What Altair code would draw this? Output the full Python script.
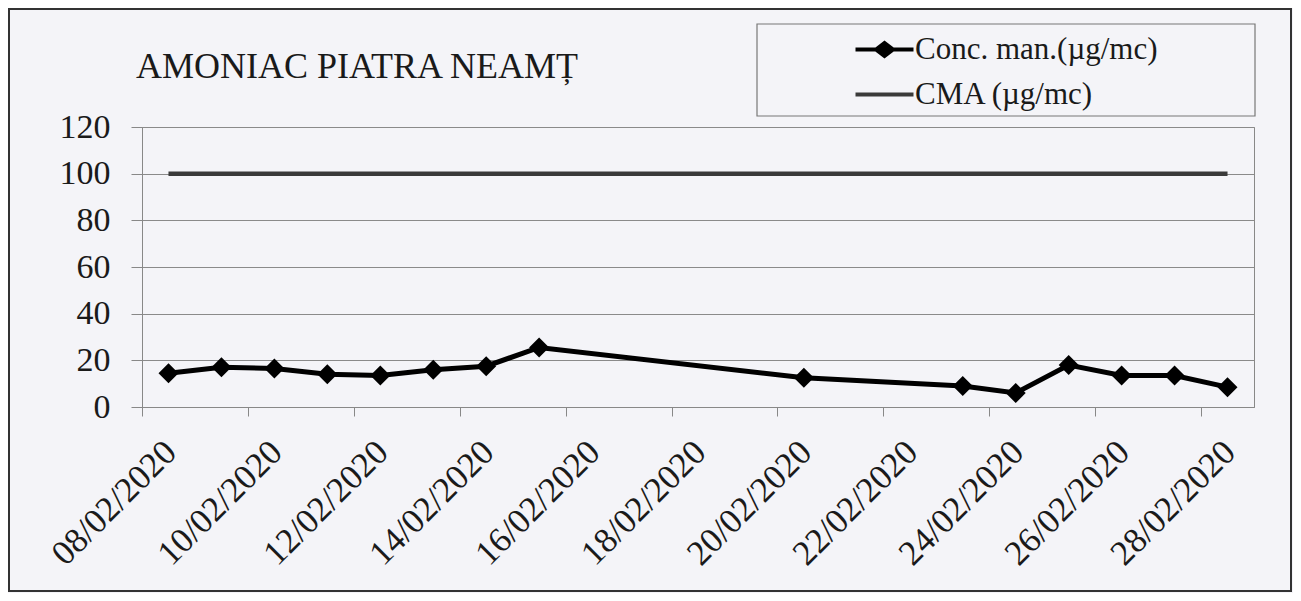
import altair as alt
import pandas as pd

# ---------------- data ----------------
dates = ["2020-02-08", "2020-02-09", "2020-02-10", "2020-02-11", "2020-02-12",
         "2020-02-13", "2020-02-14", "2020-02-15", "2020-02-20", "2020-02-23",
         "2020-02-24", "2020-02-25", "2020-02-26", "2020-02-27", "2020-02-28"]
conc = [14.5, 17, 16.5, 14, 13.5, 16, 17.5, 25.5, 12.5, 9, 6, 18, 13.5, 13.5, 8.5]
cma = [100] * len(dates)
series_names = ["Conc. man.(µg/mc)", "CMA (µg/mc)"]
series_colors = ["#000000", "#3a3a3a"]
y_ticks = [0, 20, 40, 60, 80, 100, 120]
x_tick_days = [8, 10, 12, 14, 16, 18, 20, 22, 24, 26, 28]
title_text = "AMONIAC PIATRA NEAMȚ"

FONT = "Liberation Serif"
W, H = 1112, 280

df = pd.DataFrame({"date": [d + "T12:00:00" for d in dates], "conc": conc, "cma": cma})
legend_df = pd.DataFrame({"series": series_names, "date": [dates[0] + "T12:00:00"] * 2,
                          "v": [-100, -100]})

x_enc = alt.X(
    "date:T",
    scale=alt.Scale(domain=[alt.DateTime(year=2020, month=2, date=8),
                            alt.DateTime(year=2020, month=2, date=29)]),
    axis=alt.Axis(
        values=[alt.DateTime(year=2020, month=2, date=d) for d in x_tick_days],
        format="%d/%m/%Y", formatType="time",
        labelAngle=-45, labelAlign="right", labelBaseline="middle",
        labelOffset=28, labelPadding=30,
        labelFont=FONT, labelFontSize=35, labelColor="#1a1a1a",
        grid=False, title=None, domainColor="#888", tickColor="#888",
        tickSize=9, labelOverlap=False, labelFlush=False,
    ),
)
y_scale = alt.Scale(domain=[0, 120])
y_axis = alt.Axis(values=y_ticks, title=None, labelFont=FONT, labelFontSize=34,
                  labelColor="#1a1a1a", labelPadding=21, tickSize=11, tickColor="#888",
                  domainColor="#888", gridColor="#8a8a8a", gridWidth=1)

base = alt.Chart(df)

cma_line = base.mark_line(color=series_colors[1], strokeWidth=4.5).encode(
    x=x_enc, y=alt.Y("cma:Q", scale=y_scale, axis=y_axis))
conc_line = base.mark_line(color=series_colors[0], strokeWidth=5).encode(
    x="date:T", y="conc:Q")
conc_pts = base.mark_point(shape="diamond", filled=True, color="#000", size=400, opacity=1).encode(
    x="date:T", y="conc:Q")

path_conc = "M-2.9,0L2.9,0M-0.85,0L0,-0.65L0.85,0L0,0.65Z"
path_cma = "M-2.9,0L2.9,0"
legend_layer = alt.Chart(legend_df).mark_point(filled=True, clip=True, size=10).encode(
    x="date:T", y="v:Q",
    fill=alt.Fill("series:N", scale=alt.Scale(domain=series_names, range=series_colors),
                  legend=alt.Legend(title=None, orient="none", legendX=727, legendY=-93,
                                    padding=0, rowPadding=13, labelOffset=15,
                                    labelLimit=500)),
    stroke=alt.Stroke("series:N", scale=alt.Scale(domain=series_names, range=series_colors)),
    shape=alt.Shape("series:N", scale=alt.Scale(domain=series_names, range=[path_conc, path_cma])),
)

title_layer = alt.Chart(pd.DataFrame({"t": [title_text]})).mark_text(
    align="left", baseline="alphabetic", font=FONT, fontSize=36, color="#1a1a1a").encode(
    x=alt.value(-6), y=alt.value(-49), text="t:N")

frame_df = pd.DataFrame({"k": [0]})
legend_box = alt.Chart(frame_df).mark_rect(fill="transparent", stroke="#777", strokeWidth=1.2).encode(
    x=alt.value(615), x2=alt.value(1113), y=alt.value(-103), y2=alt.value(-11))
outer_box = alt.Chart(frame_df).mark_rect(fill="transparent", stroke="#333", strokeWidth=2).encode(
    x=alt.value(-133), x2=alt.value(1149), y=alt.value(-118), y2=alt.value(464))

chart = alt.layer(
    outer_box, legend_box, cma_line, conc_line, conc_pts, legend_layer, title_layer
).properties(
    width=W, height=H,
    autosize=alt.AutoSizeParams(type="none"),
    padding={"left": 134, "top": 119, "right": 39, "bottom": 186},
    background="#f4f4f8",
).configure_view(stroke="#888", strokeWidth=1).configure_legend(
    labelFont=FONT, labelFontSize=31, labelColor="#1a1a1a",
    symbolSize=400, symbolStrokeWidth=4, symbolOpacity=1,
)

chart.save("out.html", embed_options={"renderer": "svg", "actions": False})
